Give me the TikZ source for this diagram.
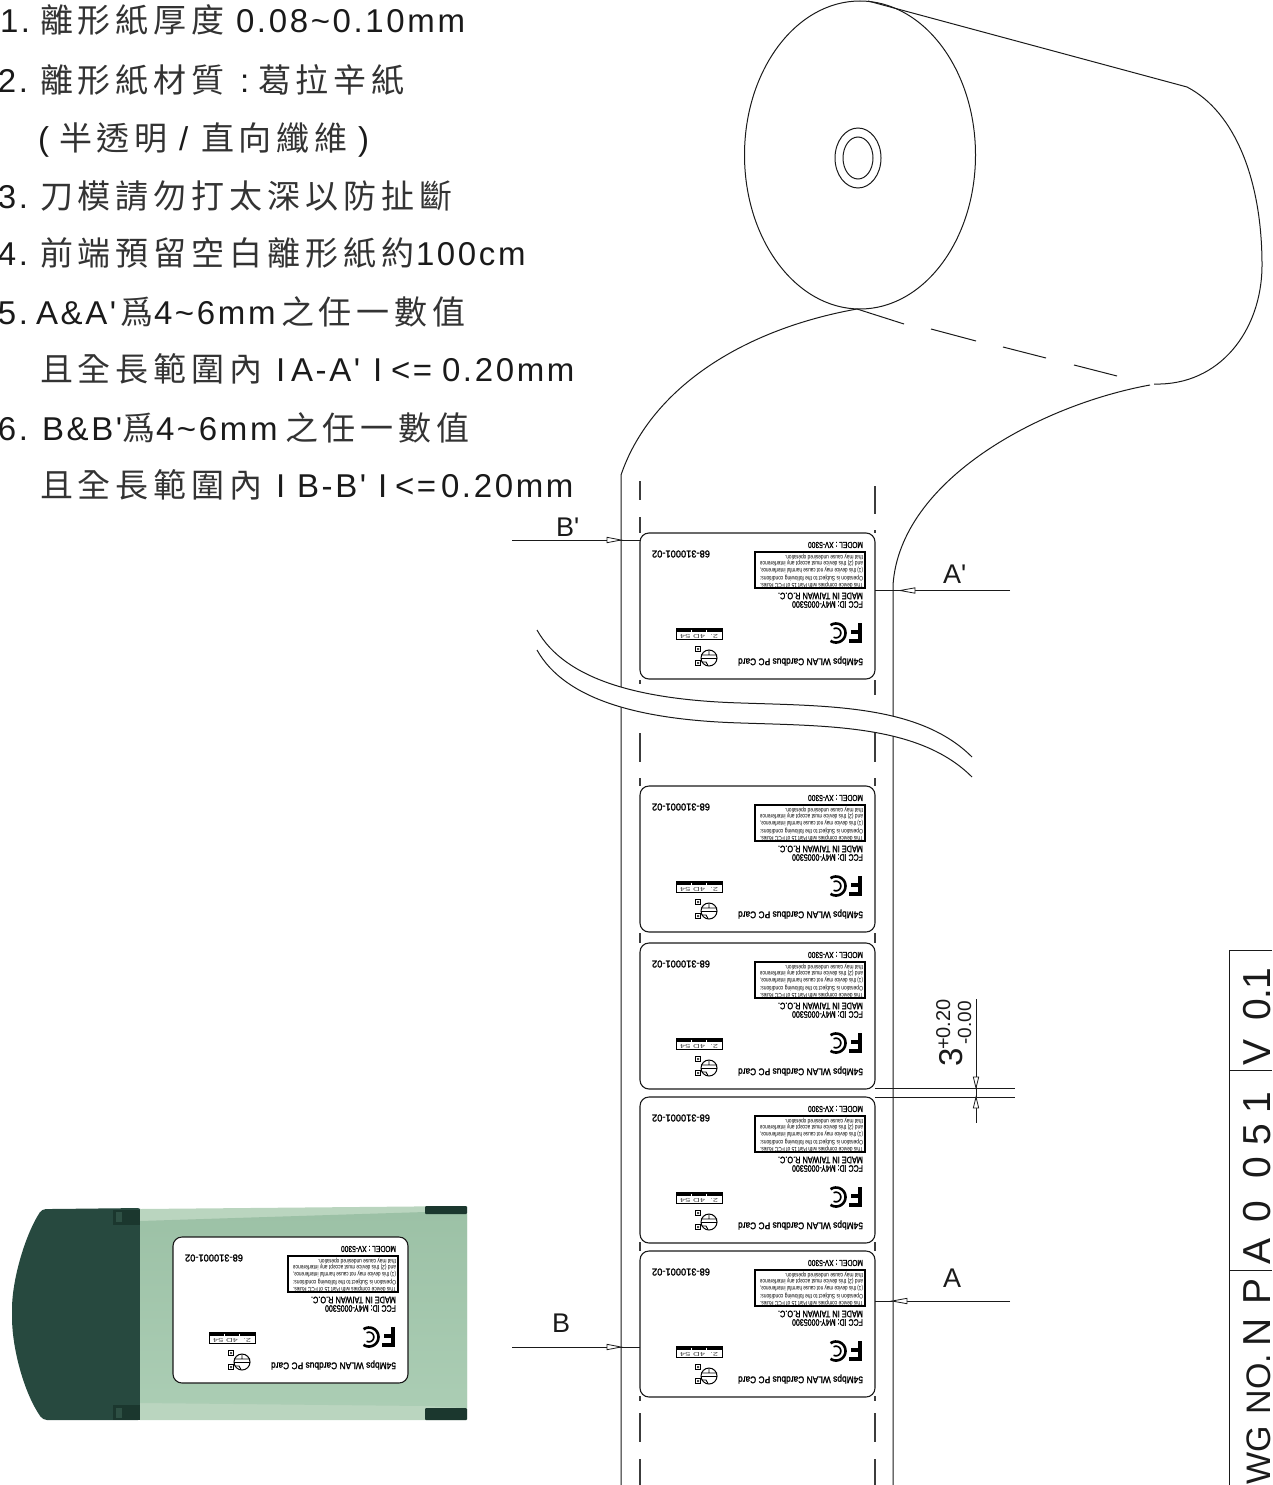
\documentclass[tikz,border=0pt]{standalone}
\usepackage{fontspec}
\usepackage{graphicx}
\setmainfont{Liberation Sans}
\newfontfamily\cjkfam[LetterSpace=15]{Noto Sans CJK TC}
\newfontfamily\latfam[LetterSpace=8]{Liberation Sans}
\newfontfamily\plainfam{Liberation Sans}
\newfontfamily\lblfam[FakeBold=1.6]{Liberation Sans}
\newcount\nodeid
\newcommand\tk{\global\advance\nodeid by 1\relax}
\newcommand\nextname{n\the\nodeid}
\definecolor{inkc}{HTML}{1A1A1A}
\definecolor{cjkc}{HTML}{333333}
\definecolor{greydark}{HTML}{27493F}
\definecolor{greytab}{HTML}{1B372E}
\definecolor{greynotch}{HTML}{2E5044}
\definecolor{bodypale}{HTML}{BAD5BF}
\definecolor{bodymid}{HTML}{9CC1A6}
\definecolor{bodylow}{HTML}{ABCDB4}
\tikzset{
  thinline/.style={line width=1pt,draw=inkc},
  cutline/.style={line width=1.2pt,draw=inkc!85},
  lbl/.style={line width=1.1pt,draw=inkc},
  flip/.style={rotate=180,inner sep=0pt,outer sep=0pt,text=black},
  listtext/.style={anchor=base west,inner sep=0pt,outer sep=0pt,text=inkc},
  vert/.style={rotate=90,anchor=base,inner sep=0pt,outer sep=0pt,text=inkc},
  dimtext/.style={inner sep=0pt,outer sep=0pt,text=inkc,anchor=base west}
}
% list text helpers
\newcommand\cj[3]{\tk\node[listtext,text=cjkc] (\nextname) at (#1,#2) {\fontsize{33}{33}\cjkfam #3};}
\newcommand\la[3]{\tk\node[listtext] (\nextname) at (#1,#2) {\fontsize{33}{33}\latfam #3};}
% upside-down fitted text: centre x, centre y, width, height, text
\newcommand\ft[5]{\tk\node[flip] (\nextname) at (#1,#2) {\resizebox{#3pt}{#4pt}{\lblfam #5}};}
\newcommand\fr[5]{\tk\node[flip] (\nextname) at (#1,#2) {\resizebox{#3pt}{#4pt}{#5}};}
% open triangles
\newcommand\trih[3]{\draw[thinline,fill=white,line width=.8pt] (#1,#2) -- ++(#3,-2.7) -- ++(0,5.4) -- cycle;}
\newcommand\triv[3]{\draw[thinline,fill=white,line width=.8pt] (#1,#2) -- ++(-2.7,#3) -- ++(5.4,0) -- cycle;}
% the printed label
\newcommand\cardlabel[3]{%
\begin{scope}[shift={(#1,#2)}]
  \draw[lbl,fill=#3,rounded corners=9pt] (0,0) rectangle (235,146);
  \ft{41}{21}{58}{7}{68-310001-02}
  \ft{195.5}{12}{55}{6}{MODEL : XV-5300}
  \draw[line width=1.1pt,draw=black] (115,19) rectangle (225,55);
  \fr{171.5}{52}{103}{4.6}{This device complies with Part 15 of FCC Rules.}
  \fr{171.5}{45}{103}{4.6}{Operation is Subject to the following conditions:}
  \fr{171.5}{37}{103}{4.6}{(1) this device may not cause harmful interference,}
  \fr{171.5}{30}{103}{4.6}{and (2) this device must accept any interference}
  \fr{184}{23.8}{78}{4.6}{that may cause undesired operation.}
  \ft{180.5}{63}{85}{6.5}{MADE IN TAIWAN R.O.C.}
  \ft{187.5}{71.5}{71}{6.5}{FCC ID: M4Y-0005300}
  % FC logo
  \fill[black] (222,90) rectangle (217.5,110);
  \fill[black] (222,110) -- (209,110) -- (209,106) -- (222,106) -- cycle;
  \fill[black] (222,97) -- (211,97) -- (211,100.5) -- (222,100.5) -- cycle;
  \draw[black,line width=2.6pt] plot[domain=-125:125,samples=25,smooth] ({196+9.5*cos(\x)},{100+9.5*sin(\x)});
  \draw[black,line width=1.6pt] plot[domain=-120:120,samples=25,smooth] ({196+4.8*cos(\x)},{100+4.8*sin(\x)});
  % small bar box
  \draw[line width=.8pt,draw=black] (36,95) rectangle (82,106);
  \fill[black] (36,95) rectangle (82,99);
  \draw[white,line width=.5pt] (51,96.5) -- (51,99) (66,96.5) -- (66,99);
  \tk\node[flip,text=black!70] (\nextname) at (59,103) {\resizebox{38pt}{4pt}{2.\ \ 4D 54}};
  % mark
  \draw[line width=1pt,draw=black] (69,125) circle[radius=8];
  \draw[line width=.9pt,draw=black] (61,122) -- (77,122) (61,125.5) -- (77,125.5) (69,117) -- (69,122)
     (61.5,129) -- (66,129) -- (68,132.5);
  \draw[line width=.8pt,draw=black,fill=white] (55.5,113.5) rectangle (60.5,118.5);
  \draw[line width=.8pt,draw=black,fill=white] (55.5,127.5) rectangle (60.5,132.5);
  \fill[black!70] (57,115) rectangle (59,117) (57,129) rectangle (59,131);
  \ft{160.5}{128}{125}{7}{54Mbps WLAN Cardbus PC Card}
\end{scope}}
\begin{document}
\begin{tikzpicture}[x=1pt,y=-1pt]
\useasboundingbox (0,0) rectangle (1272,1485);
% ---- list
\la{0}{33}{1.}\cj{40}{33}{離形紙厚度}\la{236}{33}{0.08\textasciitilde 0.10mm}
\la{-2}{93}{2.}\cj{40}{93}{離形紙材質}\la{240}{93}{:}\cj{258}{93}{葛拉辛紙}
\la{38}{150}{(}\cj{59}{150}{半透明}\la{179}{150}{/}\cj{201}{150}{直向纖維}\la{358}{150}{)}
\la{-2}{208}{3.}\cj{40}{208}{刀模請勿打太深以防扯斷}
\la{-2}{265}{4.}\cj{40}{265}{前端預留空白離形紙約}\la{416}{265}{100cm}
\la{-2}{324}{5.}\la{36}{324}{A\&A'}\cj{120}{324}{爲}\la{154}{324}{4\textasciitilde 6mm}\cj{281}{324}{之任一數值}
\cj{40}{381}{且全長範圍內}\la{276}{381}{I}\la{291}{381}{A-A'}\la{373}{381}{I}\la{391}{381}{<=}\la{442}{381}{0.20mm}
\la{-2}{440}{6.}\la{42}{440}{B\&B'}\cj{122}{440}{爲}\la{156}{440}{4\textasciitilde 6mm}\cj{285}{440}{之任一數值}
\cj{40}{497}{且全長範圍內}\la{276}{497}{I}\la{297}{497}{B-B'}\la{378}{497}{I}\la{395}{497}{<=}\la{441}{497}{0.20mm}
% ---- roll
\draw[thinline] (860,155) ellipse[x radius=115.5,y radius=154];
\draw[thinline] (858,158) ellipse[x radius=23,y radius=30];
\draw[thinline] (858,158) ellipse[x radius=15,y radius=21];
\draw[thinline] (868,1) -- (1187,87) .. controls (1235,112) and (1262,180) .. (1262,265) .. controls (1262,330) and (1220,386) .. (1154,384);
\draw[thinline] (857,309) -- (904,324) (931,329) -- (976,341) (1003,347) -- (1046,358) (1074,365) -- (1117,376);
% ---- strip
\draw[thinline] (857,309) .. controls (740,330) and (650,390) .. (621,475) -- (621,1485);
\draw[thinline] (1150,385) .. controls (1040,405) and (900,480) .. (893,585) -- (893,1485);
% ---- cut lines
\draw[cutline] (640,481) -- (640,500) (640,517) -- (640,533) (875,486) -- (875,514) (875,530) -- (875,533)
  (640,680) -- (640,684) (875,680) -- (875,695)
  (640,733) -- (640,762) (875,733) -- (875,762) (640,778) -- (640,786) (875,778) -- (875,786)
  (640,933) -- (640,943) (875,933) -- (875,943)
  (640,1242) -- (640,1251) (875,1242) -- (875,1251)
  (640,1396) -- (640,1401) (875,1396) -- (875,1401)
  (640,1413) -- (640,1442) (875,1413) -- (875,1442) (640,1459) -- (640,1485) (875,1459) -- (875,1485);
% ---- labels on the strip
\cardlabel{640}{533}{white}
\cardlabel{640}{786}{white}
\cardlabel{640}{943}{white}
\cardlabel{640}{1097}{white}
\cardlabel{640}{1251}{white}
% ---- break band
\fill[white] (537,630) .. controls (565,680) and (640,700) .. (741,703) .. controls (830,706) and (920,705) .. (972,757)
  -- (972,777) .. controls (920,725) and (830,726) .. (741,723) .. controls (640,720) and (565,700) .. (537,650) -- cycle;
\draw[thinline] (537,630) .. controls (565,680) and (640,700) .. (741,703) .. controls (830,706) and (920,705) .. (972,757);
\draw[thinline] (537,650) .. controls (565,700) and (640,720) .. (741,723) .. controls (830,726) and (920,725) .. (972,777);
% ---- dimensions
\draw[thinline] (512,540) -- (640,540);
\trih{621}{540}{-14}
\tk\node[dimtext] (\nextname) at (556,536) {\fontsize{27}{27}\plainfam B'};
\draw[thinline] (512,1347) -- (640,1347);
\trih{621}{1347}{-14}
\tk\node[dimtext] (\nextname) at (552,1332) {\fontsize{27}{27}\plainfam B};
\draw[thinline] (1010,590.5) -- (875,590.5);
\trih{900}{590.5}{15}
\tk\node[dimtext] (\nextname) at (943,583) {\fontsize{27}{27}\plainfam A'};
\draw[thinline] (1010,1301) -- (875,1301);
\trih{892}{1301}{15}
\tk\node[dimtext] (\nextname) at (943,1287) {\fontsize{27}{27}\plainfam A};
\draw[thinline] (875,1088) -- (1015,1088) (875,1097) -- (1015,1097);
\draw[thinline] (976,999) -- (976,1123);
\triv{976}{1088}{-11}
\triv{976}{1097}{11}
\tk\node[vert] (\nextname) at (962,1057) {\fontsize{33}{33}\selectfont 3};
\tk\node[vert] (\nextname) at (950,1024.5) {\fontsize{20}{20}\selectfont +0.20};
\tk\node[vert] (\nextname) at (971,1023) {\fontsize{19}{19}\selectfont -0.00};
% ---- title block
\draw[thinline] (1272,950) -- (1229,950) -- (1229,1485) (1229,1070) -- (1272,1070) (1229,1270) -- (1272,1270);
\foreach \ch/\yy in {1/979,./994,0/1010,V/1052,1/1103,5/1135,0/1168,0/1212,A/1251,P/1291,N/1332}{
  \tk\node[vert] (\nextname) at (1270,\yy) {\fontsize{39}{39}\selectfont \ch};
}
\tk\node[vert] (\nextname) at (1270,1384) {\fontsize{34}{34}\selectfont NO.};
\tk\node[vert] (\nextname) at (1270,1455) {\fontsize{34}{34}\selectfont WG};
% ---- PC card photo
\fill[greydark,rounded corners=4pt] (142,1208) -- (52,1209) -- (42,1209) .. controls (25,1235) and (12,1280) .. (12,1313) .. controls (12,1350) and (25,1395) .. (43,1420) -- (142,1420) -- cycle;
\fill[bodypale] (140,1209) -- (467,1206) -- (467,1420) -- (140,1420) -- cycle;
\shade[top color=bodymid,bottom color=bodylow] (140,1221) -- (425,1212) -- (467,1214) -- (467,1408) -- (425,1406) -- (140,1403) -- cycle;
\fill[greytab,rounded corners=1pt] (425,1206) -- (467,1206) -- (467,1214) -- (425,1214) -- cycle;
\fill[greytab,rounded corners=1pt] (425,1408) -- (467,1408) -- (467,1420) -- (425,1420) -- cycle;
\fill[greytab] (113,1210) rectangle (140,1225);
\fill[greytab] (113,1405) rectangle (140,1420);
\fill[greynotch] (116,1212) rectangle (122,1222);
\fill[greynotch] (116,1408) rectangle (122,1418);
\cardlabel{173}{1237}{white}
\end{tikzpicture}
\end{document}
